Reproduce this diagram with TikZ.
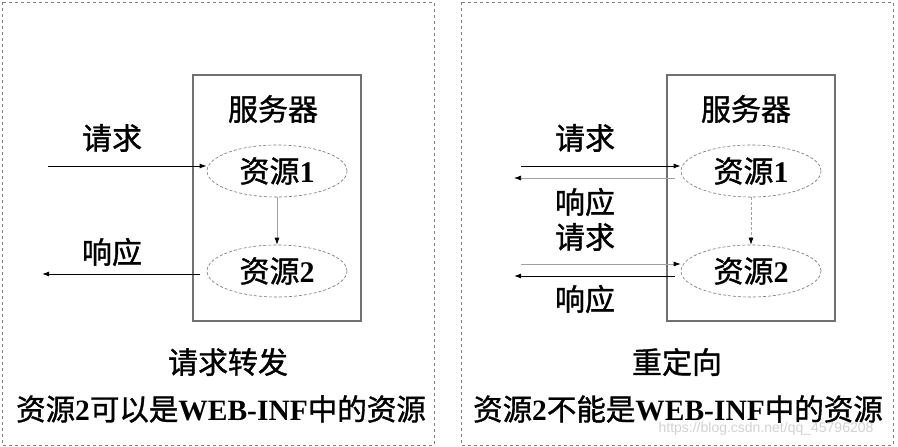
\documentclass[tikz,border=0pt]{standalone}
\usepackage{fontspec}
\setmainfont{Liberation Serif}
\newfontfamily\cjk[FakeBold=1.2]{Noto Sans CJK SC}
\newfontfamily\marksans{Liberation Sans}
\usepackage{tikz}
\usetikzlibrary{arrows.meta,shapes.geometric}
\definecolor{frame}{HTML}{707070}
\definecolor{paleline}{HTML}{A0A0A0}
\newcommand{\zh}[1]{{\cjk #1}}

\begin{document}
\begin{tikzpicture}[x=1pt,y=-1pt,>={Latex[length=7pt,width=5pt,color=black]},
  font=\fontsize{30}{34}\selectfont,
  res/.style={ellipse,draw=black!55,densely dashed,line width=0.6pt,minimum width=140pt,minimum height=52pt,inner sep=0pt},
  server/.style={draw=frame,line width=1.1pt,minimum width=168pt,minimum height=246pt,inner sep=0pt},
  panel/.style={draw=gray,dashed,line width=0.8pt},
  strong/.style={->,line width=1pt},
  weak/.style={->,paleline,line width=0.7pt}]
\useasboundingbox (0,0) rectangle (898,447);

% two dashed panels
\draw[panel] (2,2) rectangle (434,445);
\draw[panel] (461,2) rectangle (893,445);

% left panel: forward
\node[server] (srvA) at (277,198) {};
\node (titleA) at (273,109) {\zh{服务器}};
\node[res] (resA1) at (277,171) {\zh{资源}\textbf{1}};
\node[res] (resA2) at (277,271) {\zh{资源}\textbf{2}};
\coordinate (inA) at (48,166);
\coordinate (outAs) at (200,274);
\coordinate (outAe) at (42,274);
\draw[strong] (inA) -- (inA -| resA1.west);
\draw[strong] (outAs) -- (outAe);
\draw[weak] (resA1) -- (resA2);
\node (reqA) at (112,138) {\zh{请求}};
\node (rspA) at (112,252) {\zh{响应}};
\node (capA) at (228,362) {\zh{请求转发}};
\node (noteA) at (221,409) {\fontsize{29.5}{32}\selectfont\zh{资源}\textbf{2}\zh{可以是}\textbf{WEB-INF}\zh{中的资源}};

% right panel: redirect
\node[server] (srvB) at (751,198) {};
\node (titleB) at (746,109) {\zh{服务器}};
\node[res] (resB1) at (751,171) {\zh{资源}\textbf{1}};
\node[res] (resB2) at (751,271) {\zh{资源}\textbf{2}};
\coordinate (inB1) at (521,166);
\coordinate (outB1s) at (675,178);
\coordinate (outB1e) at (514,178);
\coordinate (inB2) at (521,264);
\coordinate (outB2s) at (675,276);
\coordinate (outB2e) at (514,276);
\draw[strong] (inB1) -- (inB1 -| resB1.west);
\draw[weak] (outB1s) -- (outB1e);
\draw[weak] (inB2) -- (inB2 -| resB2.west);
\draw[strong] (outB2s) -- (outB2e);
\draw[weak,densely dashed] (resB1) -- (resB2);
\node (reqB1) at (585,138) {\zh{请求}};
\node (rspB1) at (585,202) {\zh{响应}};
\node (reqB2) at (585,237) {\zh{请求}};
\node (rspB2) at (585,299) {\zh{响应}};
\node (capB) at (677,362) {\zh{重定向}};
\node (noteB) at (678,409) {\fontsize{29.5}{32}\selectfont\zh{资源}\textbf{2}\zh{不能是}\textbf{WEB-INF}\zh{中的资源}};
\node[text=black!18] (mark) at (766,429) {\fontsize{14}{16}\selectfont\marksans https://blog.csdn.net/qq\_45796208};
\end{tikzpicture}
\end{document}
